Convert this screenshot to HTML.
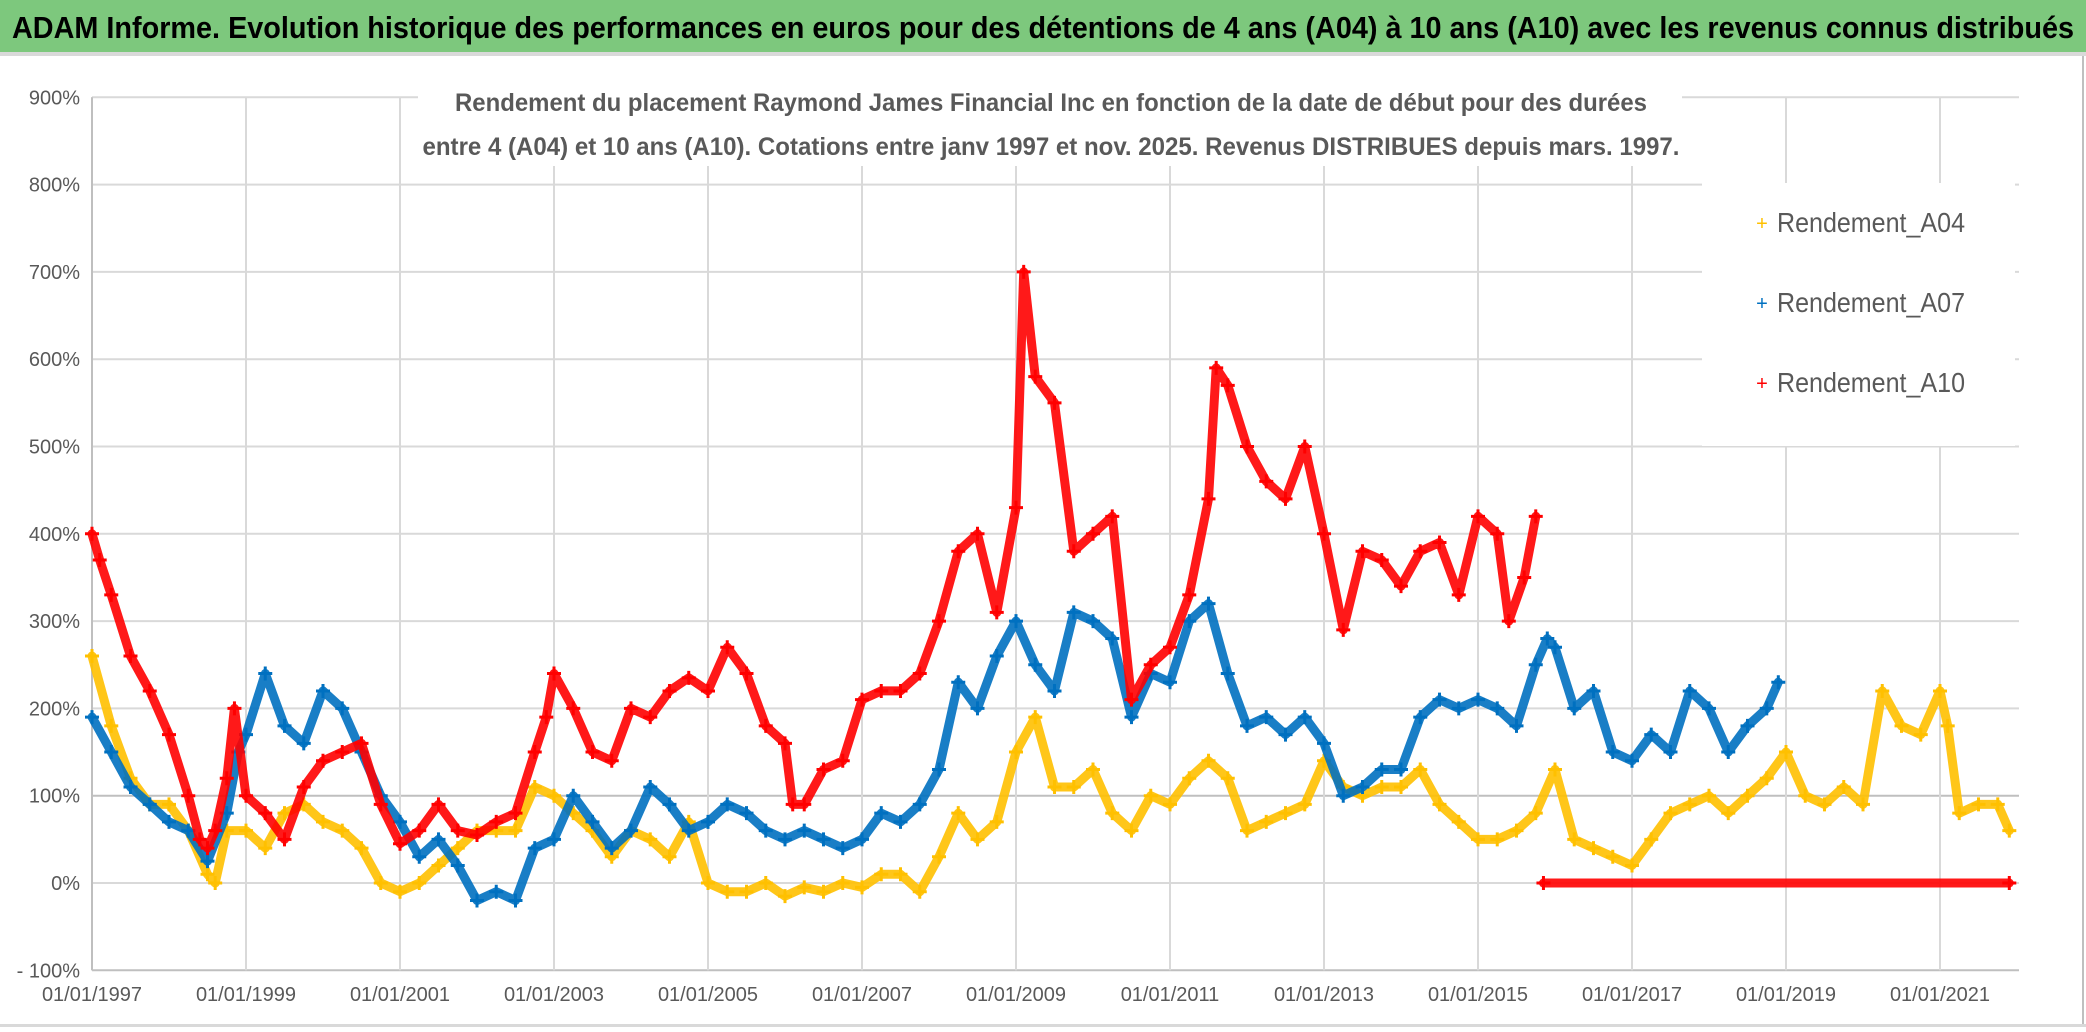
<!DOCTYPE html>
<html><head><meta charset="utf-8"><style>
html,body{margin:0;padding:0;background:#fff;}
svg{display:block;}
text{font-family:"Liberation Sans",sans-serif;}
</style></head><body>
<svg id="chart" width="2086" height="1032" viewBox="0 0 2086 1032">
<rect x="0" y="0" width="2086" height="52" fill="#7DC87D"/>
<rect x="0" y="52" width="2086" height="4" fill="#d9d9d9"/>
<text x="12" y="38" font-size="31" font-weight="bold" fill="#000" textLength="2062" lengthAdjust="spacingAndGlyphs">ADAM Informe. Evolution historique des performances en euros pour des détentions de 4 ans (A04) à 10 ans (A10) avec les revenus connus distribués</text>
<rect x="2082" y="56" width="2" height="970" fill="#bfbfbf"/>
<rect x="0" y="1024" width="2086" height="3" fill="#d9d9d9"/>
<g id="grid"></g>
<g id="yticks"></g>
<g id="xticks"></g>
<g id="series"></g>
<rect x="418" y="80" width="1264" height="86" fill="#fff"/>
<text x="1051" y="111" font-size="25" font-weight="bold" fill="#595959" text-anchor="middle" textLength="1192" lengthAdjust="spacingAndGlyphs">Rendement du placement Raymond James Financial Inc en fonction de la date de début pour des durées</text>
<text x="1051" y="155" font-size="25" font-weight="bold" fill="#595959" text-anchor="middle" textLength="1257" lengthAdjust="spacingAndGlyphs">entre 4 (A04) et 10 ans (A10). Cotations entre janv 1997 et nov. 2025. Revenus DISTRIBUES depuis mars. 1997.</text>
<g>
<rect x="1702" y="183" width="313" height="263" fill="#fff"/>
<g><text x="1762" y="230" font-size="20" fill="#FFC000" text-anchor="middle">+</text><text x="1777" y="232" font-size="28" fill="#595959" textLength="188" lengthAdjust="spacingAndGlyphs">Rendement_A04</text></g>
<g><text x="1762" y="310" font-size="20" fill="#0070C0" text-anchor="middle">+</text><text x="1777" y="312" font-size="28" fill="#595959" textLength="188" lengthAdjust="spacingAndGlyphs">Rendement_A07</text></g>
<g><text x="1762" y="390" font-size="20" fill="#FF0000" text-anchor="middle">+</text><text x="1777" y="392" font-size="28" fill="#595959" textLength="188" lengthAdjust="spacingAndGlyphs">Rendement_A10</text></g>
</g>
</svg>
<script>
const yTicks=[900,800,700,600,500,400,300,200,100,0,-100];
const yTickLabels=["900%","800%","700%","600%","500%","400%","300%","200%","100%","0%","- 100%"];
const xTicks=[1997,1999,2001,2003,2005,2007,2009,2011,2013,2015,2017,2019,2021];
const xTickLabels=["01/01/1997","01/01/1999","01/01/2001","01/01/2003","01/01/2005","01/01/2007","01/01/2009","01/01/2011","01/01/2013","01/01/2015","01/01/2017","01/01/2019","01/01/2021"];
const a04Years=[1997.0,1997.25,1997.5,1997.75,1998.0,1998.25,1998.5,1998.6,1998.75,1999.0,1999.25,1999.5,1999.75,2000.0,2000.25,2000.5,2000.75,2001.0,2001.25,2001.5,2001.75,2002.0,2002.25,2002.5,2002.75,2003.0,2003.25,2003.5,2003.75,2004.0,2004.25,2004.5,2004.75,2005.0,2005.25,2005.5,2005.75,2006.0,2006.25,2006.5,2006.75,2007.0,2007.25,2007.5,2007.75,2008.0,2008.25,2008.5,2008.75,2009.0,2009.25,2009.5,2009.75,2010.0,2010.25,2010.5,2010.75,2011.0,2011.25,2011.5,2011.75,2012.0,2012.25,2012.5,2012.75,2013.0,2013.25,2013.5,2013.75,2014.0,2014.25,2014.5,2014.75,2015.0,2015.25,2015.5,2015.75,2016.0,2016.25,2016.5,2016.75,2017.0,2017.25,2017.5,2017.75,2018.0,2018.25,2018.5,2018.75,2019.0,2019.25,2019.5,2019.75,2020.0,2020.25,2020.5,2020.75,2021.0,2021.1,2021.25,2021.5,2021.75,2021.9];
const a04Values=[260,180,120,90,90,60,10,0,60,60,40,80,90,70,60,40,0,-10,0,20,40,60,60,60,110,100,80,60,30,60,50,30,70,0,-10,-10,0,-15,-5,-10,0,-5,10,10,-10,30,80,50,70,150,190,110,110,130,80,60,100,90,120,140,120,60,70,80,90,140,110,100,110,110,130,90,70,50,50,60,80,130,50,40,30,20,50,80,90,100,80,100,120,150,100,90,110,90,220,180,170,220,180,80,90,90,60];
const a07Years=[1997.0,1997.25,1997.5,1997.75,1998.0,1998.25,1998.5,1998.75,1998.9,1999.0,1999.25,1999.5,1999.75,2000.0,2000.25,2000.5,2000.75,2001.0,2001.25,2001.5,2001.75,2002.0,2002.25,2002.5,2002.75,2003.0,2003.25,2003.5,2003.75,2004.0,2004.25,2004.5,2004.75,2005.0,2005.25,2005.5,2005.75,2006.0,2006.25,2006.5,2006.75,2007.0,2007.25,2007.5,2007.75,2008.0,2008.25,2008.5,2008.75,2009.0,2009.25,2009.5,2009.75,2010.0,2010.25,2010.5,2010.75,2011.0,2011.25,2011.5,2011.75,2012.0,2012.25,2012.5,2012.75,2013.0,2013.25,2013.5,2013.75,2014.0,2014.25,2014.5,2014.75,2015.0,2015.25,2015.5,2015.75,2015.9,2016.0,2016.25,2016.5,2016.75,2017.0,2017.25,2017.5,2017.75,2018.0,2018.25,2018.5,2018.75,2018.9];
const a07Values=[190,150,110,90,70,60,25,80,150,170,240,180,160,220,200,150,100,70,30,50,20,-20,-10,-20,40,50,100,70,40,60,110,90,60,70,90,80,60,50,60,50,40,50,80,70,90,130,230,200,260,300,250,220,310,300,280,190,240,230,300,320,240,180,190,170,190,160,100,110,130,130,190,210,200,210,200,180,250,280,270,200,220,150,140,170,150,220,200,150,180,200,230];
const a10Years=[1997.0,1997.1,1997.25,1997.5,1997.75,1998.0,1998.25,1998.4,1998.5,1998.6,1998.75,1998.85,1999.0,1999.25,1999.5,1999.75,2000.0,2000.25,2000.5,2000.75,2001.0,2001.25,2001.5,2001.75,2002.0,2002.25,2002.5,2002.75,2002.9,2003.0,2003.25,2003.5,2003.75,2004.0,2004.25,2004.5,2004.75,2005.0,2005.25,2005.5,2005.75,2006.0,2006.1,2006.25,2006.5,2006.75,2007.0,2007.25,2007.5,2007.75,2008.0,2008.25,2008.5,2008.75,2009.0,2009.1,2009.25,2009.5,2009.75,2010.0,2010.25,2010.5,2010.75,2011.0,2011.25,2011.5,2011.6,2011.75,2012.0,2012.25,2012.5,2012.75,2013.0,2013.25,2013.5,2013.75,2014.0,2014.25,2014.5,2014.75,2015.0,2015.25,2015.4,2015.6,2015.75];
const a10Values=[400,370,330,260,220,170,100,50,40,60,120,200,100,80,50,110,140,150,160,90,45,60,90,60,55,70,80,150,190,240,200,150,140,200,190,220,235,220,270,240,180,160,90,90,130,140,210,220,220,240,300,380,400,310,430,700,580,550,380,400,420,210,250,270,330,440,590,570,500,460,440,500,400,290,380,370,340,380,390,330,420,400,300,350,420];
const a10ZeroYears=[2015.85,2021.9];
const a10ZeroValues=[0,0];

const NS="http://www.w3.org/2000/svg";
const X0=92,PXY=77.0,Y0=883,PXP=0.873;
function xs(y){return X0+(y-1997)*PXY;}
function ys(v){return Y0-v*PXP;}
function mk(tag,attrs,parent){const e=document.createElementNS(NS,tag);for(const k in attrs)e.setAttribute(k,attrs[k]);parent.appendChild(e);return e;}
const grid=document.getElementById('grid');
const XR=2019;
yTicks.forEach((t,i)=>{
  const l=mk('line',{x1:X0,x2:XR,y1:ys(t),y2:ys(t),stroke:(t===-100||t===100)?'#bfbfbf':'#d9d9d9','stroke-width':2},grid);
  
  
  const tx=mk('text',{x:80,y:ys(t)+7,'font-size':20,fill:'#595959','text-anchor':'end'},document.getElementById('yticks'));
  tx.textContent=yTickLabels[i];
  
  
});
xTicks.forEach((t,i)=>{
  const l=mk('line',{x1:xs(t),x2:xs(t),y1:ys(900),y2:ys(-100),stroke:'#d9d9d9','stroke-width':2},grid);
  
  
  const tx=mk('text',{x:xs(t),y:1001,'font-size':20,fill:'#595959','text-anchor':'middle'},document.getElementById('xticks'));
  tx.textContent=xTickLabels[i];
  
  
});
const ax=mk('line',{x1:X0,x2:X0,y1:ys(900),y2:ys(-100),stroke:'#bfbfbf','stroke-width':2},grid);


const sg=document.getElementById('series');
function drawSeries(years,vals,color,name){
  const g=mk('g',{},sg);
  
  
  const pts=years.map((y,i)=>xs(y).toFixed(1)+','+ys(vals[i]).toFixed(1)).join(' ');
  const pl=mk('polyline',{points:pts,fill:'none',stroke:color,'stroke-width':9,'stroke-linejoin':'round','stroke-linecap':'round','opacity':0.9},g);
  
  
  years.forEach((y,i)=>{
    const cx=xs(y),cy=ys(vals[i]);
    const p=mk('path',{d:`M${cx-7},${cy}H${cx+7}M${cx},${cy-7}V${cy+7}`,stroke:color,'stroke-width':3},g);
    
    
  });
}
drawSeries(a04Years,a04Values,'#FFC000','series-a04');
drawSeries(a07Years,a07Values,'#0070C0','series-a07');
drawSeries(a10Years,a10Values,'#FF0000','series-a10');
drawSeries(a10ZeroYears,a10ZeroValues,'#FF0000','series-a10-zero');
</script>
</body></html>
